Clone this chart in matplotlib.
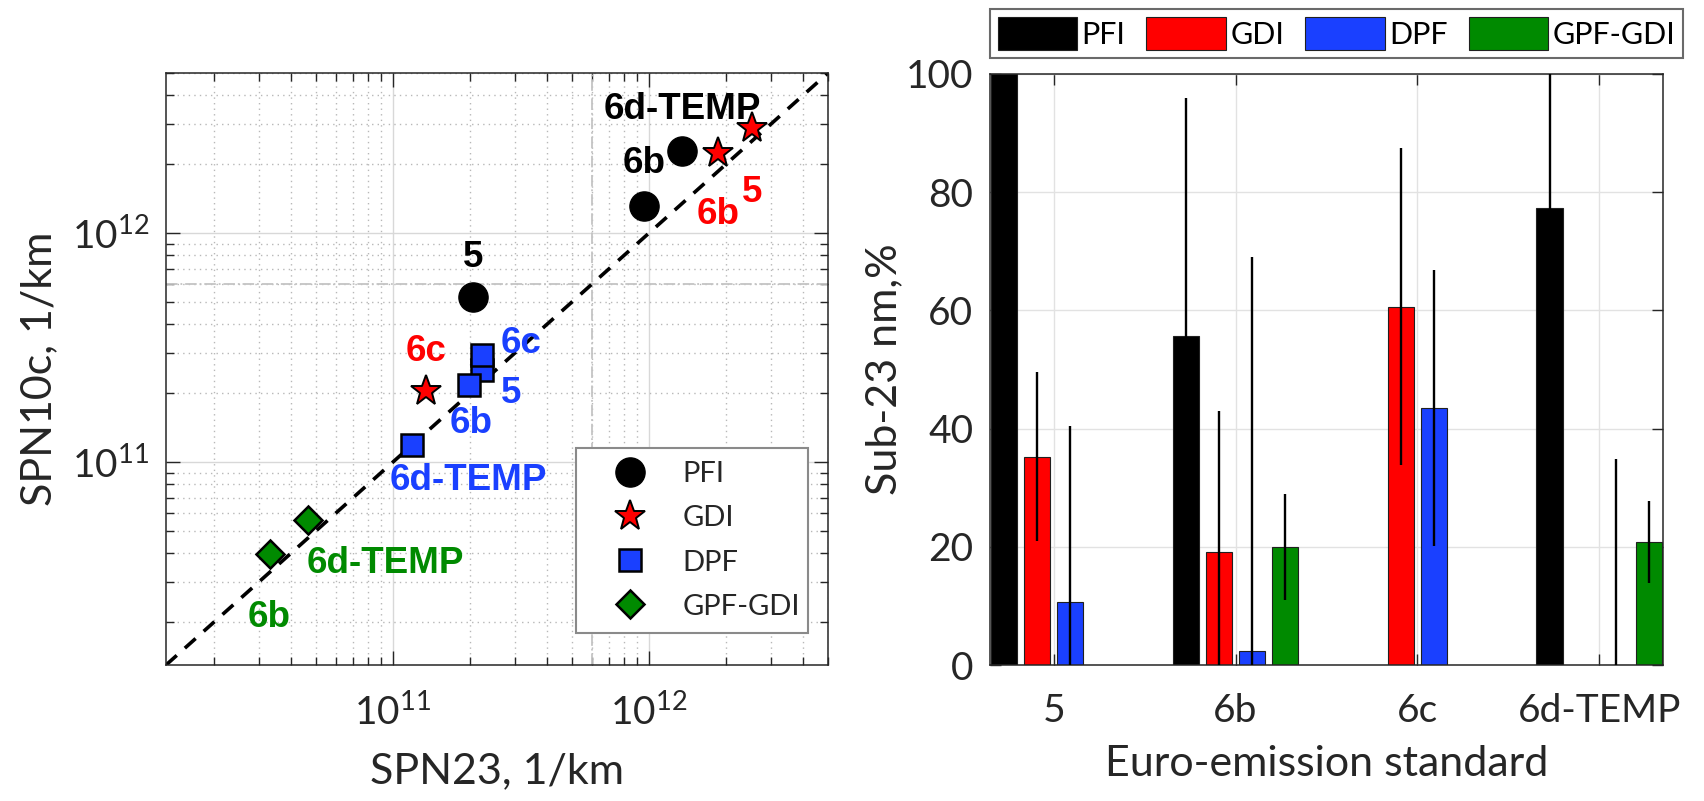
import numpy as np
import matplotlib
matplotlib.use("Agg")
import matplotlib.pyplot as plt
from matplotlib.ticker import LogLocator, NullFormatter, FuncFormatter
from matplotlib.lines import Line2D
from matplotlib.patches import Patch

plt.rcParams['font.family'] = ['Lato', 'DejaVu Sans']
plt.rcParams['mathtext.fontset'] = 'custom'
plt.rcParams['mathtext.rm'] = 'Lato'

TXT = '#262626'
COLORS = {'PFI': '#000000', 'GDI': '#ff0000', 'DPF': '#1a40ff', 'GPF-GDI': '#008a00'}

# --- scatter data: SPN23 vs SPN10c (1/km) per technology ---
pfi_std = ['5', '6b', '6d-TEMP']
pfi_spn23 = [2.05e11, 9.6e11, 1.35e12]
pfi_spn10 = [5.24e11, 1.31e12, 2.29e12]

gdi_std = ['5', '6b', '6c']
gdi_spn23 = [2.52e12, 1.86e12, 1.35e11]
gdi_spn10 = [2.89e12, 2.24e12, 2.05e11]

dpf_std = ['5', '6b', '6c', '6d-TEMP']
dpf_spn23 = [2.22e11, 1.99e11, 2.23e11, 1.19e11]
dpf_spn10 = [2.52e11, 2.17e11, 2.93e11, 1.19e11]

gpf_std = ['6b', '6d-TEMP']
gpf_spn23 = [3.3e10, 4.65e10]
gpf_spn10 = [3.96e10, 5.58e10]

PN_LIMIT = 6e11
LOG_LIM = (1.3e10, 5.0e12)

# --- bar data: sub-23 nm fraction (%) per Euro standard ---
standards = ['5', '6b', '6c', '6d-TEMP']
pfi_sub23 = [100.0, 55.7, np.nan, 77.3]
pfi_err = [np.nan, 40.2, np.nan, 25.0]
gdi_sub23 = [35.2, 19.2, 60.6, np.nan]
gdi_err = [14.3, 23.7, 26.8, np.nan]
dpf_sub23 = [10.6, 2.4, 43.5, 0.0]
dpf_err = [29.8, 66.6, 23.4, 34.8]
gpf_sub23 = [np.nan, 20.0, np.nan, 20.8]
gpf_err = [np.nan, 9.0, np.nan, 7.0]

W, H = 1704, 801
fig = plt.figure(figsize=(W / 100, H / 100), dpi=100)


def px_axes(x0, y0, x1, y1):
    return fig.add_axes([x0 / W, (H - y1) / H, (x1 - x0) / W, (y1 - y0) / H])


# marker styles shared by plot and legend
MK = {
    'PFI': dict(marker='o', ms=21, mfc=COLORS['PFI'], mec='k'),
    'GDI': dict(marker='*', ms=23, mfc=COLORS['GDI'], mec='k', mew=1.4),
    'DPF': dict(marker='s', ms=15.5, mfc=COLORS['DPF'], mec='k', mew=1.8),
    'GPF-GDI': dict(marker='D', ms=14.5, mfc=COLORS['GPF-GDI'], mec='k', mew=1.8),
}

# ================= left: scatter =================
ax = px_axes(166, 73, 828, 665)
ax.set_xscale('log')
ax.set_yscale('log')
ax.set_xlim(*LOG_LIM)
ax.set_ylim(*LOG_LIM)

for axis in (ax.xaxis, ax.yaxis):
    axis.set_major_locator(LogLocator(base=10, numticks=10))
    axis.set_minor_locator(LogLocator(base=10, subs=np.arange(2, 10), numticks=10))
    axis.set_minor_formatter(NullFormatter())
    axis.set_major_formatter(FuncFormatter(lambda v, p: r'$\mathregular{10^{%d}}$' % round(np.log10(v))))

ax.grid(True, which='major', color='#d8d8d8', lw=1.0, ls='-')
ax.grid(True, which='minor', color='#b8b8b8', lw=1.0, ls=(0, (1, 3)))
ax.set_axisbelow(True)
ax.axhline(PN_LIMIT, color='#c4c4c4', lw=1.3, ls='-.', zorder=1)
ax.axvline(PN_LIMIT, color='#c4c4c4', lw=1.3, ls='-.', zorder=1)

ax.plot(LOG_LIM, LOG_LIM, ls=(0, (4, 3)), color='k', lw=2.6, zorder=2)

ax.plot(pfi_spn23, pfi_spn10, ls='none', zorder=3, **MK['PFI'])
ax.plot(gdi_spn23, gdi_spn10, ls='none', zorder=3, **MK['GDI'])
ax.plot(dpf_spn23, dpf_spn10, ls='none', zorder=3, **MK['DPF'])
ax.plot(gpf_spn23, gpf_spn10, ls='none', zorder=3, **MK['GPF-GDI'])

# label offsets in pixels from each point
lab_kw = dict(textcoords='offset pixels', ha='center', va='center',
              fontsize=26.5, fontweight='bold', family='Liberation Sans', zorder=4)
pfi_off = [(0, 40), (0, 43), (0, 41)]
gdi_off = [(0, -65), (0, -62), (0, 39)]
dpf_off = [(30, -23), (2, -38), (39, 12), (56, -36)]
gpf_off = [(0, -63), (78, -43)]
for names, xs, ys, offs, key in [
        (pfi_std, pfi_spn23, pfi_spn10, pfi_off, 'PFI'),
        (gdi_std, gdi_spn23, gdi_spn10, gdi_off, 'GDI'),
        (dpf_std, dpf_spn23, dpf_spn10, dpf_off, 'DPF'),
        (gpf_std, gpf_spn23, gpf_spn10, gpf_off, 'GPF-GDI')]:
    for n, x, y, o in zip(names, xs, ys, offs):
        ax.annotate(n, (x, y), xytext=o, color=COLORS[key], **lab_kw)

ax.tick_params(which='both', direction='in', top=True, right=True,
               colors=TXT, labelsize=28, width=1.0)
ax.tick_params(which='major', length=10)
ax.tick_params(axis='x', which='major', pad=20)
ax.tick_params(axis='y', which='major', pad=12)
ax.tick_params(which='minor', length=6)
for s in ax.spines.values():
    s.set_color(TXT)
    s.set_linewidth(1.1)
ax.set_xlabel('SPN23, 1/km', fontsize=31, color=TXT, labelpad=15)
ax.set_ylabel('SPN10c, 1/km', fontsize=31, color=TXT, labelpad=10)

handles = [Line2D([], [], ls='none', **MK[k]) for k in ['PFI', 'GDI', 'DPF', 'GPF-GDI']]
leg = fig.legend(handles, ['PFI', 'GDI', 'DPF', 'GPF-GDI'], loc='center',
                 bbox_to_anchor=(576 / W, (H - 643) / H, 232 / W, 205 / H), mode='expand',
                 fontsize=21, numpoints=1, handlelength=2.8, handletextpad=0.4,
                 labelspacing=0.62, borderpad=0.45, borderaxespad=0, fancybox=False,
                 framealpha=1)
leg.get_frame().set_edgecolor('#8a8a8a')
leg.get_frame().set_linewidth(1.5)
for t in leg.get_texts():
    t.set_color(TXT)

# ================= right: bars =================
bx = px_axes(990, 74, 1663, 665)
xc = np.arange(1, len(standards) + 1)
offsets = [-0.273, -0.091, 0.091, 0.273]
bw = 0.145
series = [('PFI', pfi_sub23, pfi_err), ('GDI', gdi_sub23, gdi_err),
          ('DPF', dpf_sub23, dpf_err), ('GPF-GDI', gpf_sub23, gpf_err)]
for (name, vals, errs), off in zip(series, offsets):
    bx.bar(xc + off, vals, bw, color=COLORS[name], edgecolor='#202020', lw=0.8, zorder=2)
    bx.errorbar(xc + off, vals, yerr=errs, fmt='none', ecolor='k', elinewidth=1.7,
                capsize=0, zorder=3)

bx.set_xlim(0.65, 4.35)
bx.set_ylim(0, 100)
bx.set_xticks(xc)
bx.set_xticklabels(standards)
bx.set_yticks(np.arange(0, 101, 20))
bx.grid(True, color='#e2e2e2', lw=1.0)
bx.set_axisbelow(True)
bx.tick_params(direction='in', top=True, right=True, colors=TXT, labelsize=28,
               length=8, width=1.0)
bx.tick_params(axis='x', pad=20)
bx.tick_params(axis='y', pad=12)
for s in bx.spines.values():
    s.set_color(TXT)
    s.set_linewidth(1.1)
bx.set_xlabel('Euro-emission standard', fontsize=31, color=TXT, labelpad=12)
bx.set_ylabel('Sub-23 nm,%', fontsize=31, color=TXT, labelpad=2)

bar_handles = [Patch(facecolor=COLORS[n], edgecolor='#202020', lw=0.8) for n, _, _ in series]
leg2 = fig.legend(bar_handles, [n for n, _, _ in series], loc='center', ncol=4,
                  bbox_to_anchor=(990 / W, (H - 62) / H, 693 / W, 57 / H), mode='expand',
                  fontsize=22, handlelength=2.6, handleheight=1.3, handletextpad=0.15,
                  columnspacing=0.3, borderpad=0.25, borderaxespad=0, fancybox=False,
                  framealpha=1)
leg2.get_frame().set_edgecolor('#6a6a6a')
leg2.get_frame().set_linewidth(1.5)
for t in leg2.get_texts():
    t.set_color('#000000')

fig.savefig('out.png', dpi=100, facecolor='white')
